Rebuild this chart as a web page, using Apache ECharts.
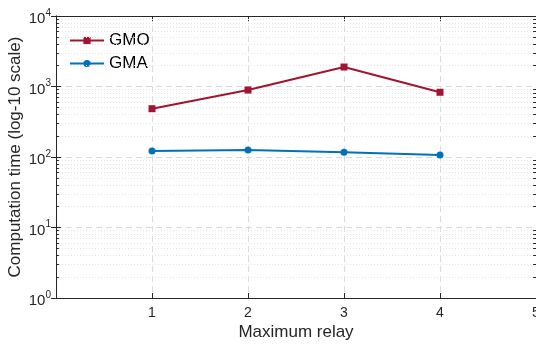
<!DOCTYPE html>
<html>
<head>
<meta charset="utf-8">
<script src="https://cdn.jsdelivr.net/npm/echarts@6/dist/echarts.min.js"></script>
<style>
  html, body { margin: 0; padding: 0; background: #fff; }
  #chart { width: 536px; height: 344px; }
</style>
</head>
<body>
<div id="chart"></div>
<script>
// Data
var relays = [1, 2, 3, 4];
var gmoTime = [484, 891, 1890, 828];
var gmaTime = [122, 126, 117, 107];

var TEXT = '#262626';
var FONT = 'Liberation Sans';

// minor grid values 2..9 x 10^k
var minorVals = [];
for (var k = 0; k < 4; k++) {
  for (var m = 2; m <= 9; m++) minorVals.push(m * Math.pow(10, k));
}

var minorGrid = minorVals.map(function (v) { return { yAxis: v }; });
var minorTicks = [];
minorVals.forEach(function (v) {
  minorTicks.push([{ coord: [0, v] }, { coord: [0.03, v] }]);
  minorTicks.push([{ coord: [4.97, v] }, { coord: [5, v] }]);
});

function pairs(xs, ys) {
  return xs.map(function (x, i) { return [x, ys[i]]; });
}

var chart = echarts.init(document.getElementById('chart'), null, { renderer: 'canvas' });

chart.setOption({
  backgroundColor: '#fff',
  animation: false,
  grid: { left: 56, top: 16, right: 0, bottom: 46, containLabel: false, outerBoundsMode: 'none' },
  legend: {
    left: 64,
    top: 27,
    orient: 'vertical',
    itemWidth: 34,
    itemHeight: 9,
    itemGap: 6,
    textStyle: { fontFamily: FONT, fontSize: 17, color: '#000' },
    data: ['GMO', 'GMA']
  },
  xAxis: [{
    type: 'value',
    min: 0, max: 5, interval: 1,
    name: 'Maximum relay',
    nameLocation: 'middle',
    nameGap: 26,
    nameMoveOverlap: false,
    nameTextStyle: { fontFamily: FONT, fontSize: 17, color: TEXT },
    axisLine: { lineStyle: { color: TEXT, width: 1 } },
    axisTick: { inside: true, length: 5, lineStyle: { color: TEXT } },
    axisLabel: {
      fontFamily: FONT, fontSize: 14, color: TEXT, margin: 8,
      formatter: function (v) { return v === 0 ? '' : String(v); }
    },
    splitLine: { show: true, lineStyle: { color: '#dadada', type: [6, 4], width: 1 } }
  }, {
    type: 'value',
    position: 'top',
    min: 0, max: 5, interval: 1,
    axisLine: { lineStyle: { color: TEXT, width: 1 } },
    axisTick: { inside: true, length: 5, lineStyle: { color: TEXT } },
    axisLabel: { show: false },
    splitLine: { show: false }
  }],
  yAxis: [{
    type: 'log',
    logBase: 10,
    min: 1, max: 10000,
    name: 'Computation time (log-10 scale)',
    nameLocation: 'middle',
    nameGap: 32,
    nameMoveOverlap: false,
    nameTextStyle: { fontFamily: FONT, fontSize: 17, color: TEXT },
    axisLine: { show: true, lineStyle: { color: TEXT, width: 1 } },
    axisTick: { show: true, inside: true, length: 5, lineStyle: { color: TEXT } },
    minorTick: { show: false },
    axisLabel: {
      margin: 5,
      formatter: function (v) {
        return '{b|10}{s|' + Math.round(Math.log10(v)) + '}';
      },
      rich: {
        b: { fontFamily: FONT, fontSize: 15, color: TEXT, padding: [6, 0, 0, 0] },
        s: { fontFamily: FONT, fontSize: 10, color: TEXT, padding: [0, 0, 6, 0] }
      }
    },
    splitLine: { show: true, lineStyle: { color: '#dadada', type: [6, 4], width: 1 } }
  }, {
    type: 'log',
    logBase: 10,
    min: 1, max: 10000,
    position: 'right',
    axisLine: { show: true, lineStyle: { color: TEXT, width: 1 } },
    axisTick: { show: true, inside: true, length: 5, lineStyle: { color: TEXT } },
    axisLabel: { show: false },
    splitLine: { show: false }
  }],
  series: [{
    name: 'minor',
    type: 'line',
    data: [],
    silent: true,
    markLine: {
      silent: true,
      symbol: 'none',
      label: { show: false },
      lineStyle: { color: '#e3e3e3', type: [1, 2], width: 1 },
      data: minorGrid
    }
  }, {
    name: 'minorTicks',
    type: 'line',
    data: [],
    silent: true,
    markLine: {
      silent: true,
      symbol: 'none',
      label: { show: false },
      lineStyle: { color: TEXT, type: 'solid', width: 1 },
      data: minorTicks
    }
  }, {
    name: 'GMO',
    type: 'line',
    data: pairs(relays, gmoTime),
    symbol: 'rect',
    symbolSize: 7,
    color: '#A2142F',
    lineStyle: { width: 2, color: '#A2142F' },
    itemStyle: { color: '#A2142F' },
    z: 5
  }, {
    name: 'GMA',
    type: 'line',
    data: pairs(relays, gmaTime),
    symbol: 'circle',
    symbolSize: 7,
    color: '#0072BD',
    lineStyle: { width: 2, color: '#0072BD' },
    itemStyle: { color: '#0072BD' },
    z: 5
  }]
});
</script>
</body>
</html>
